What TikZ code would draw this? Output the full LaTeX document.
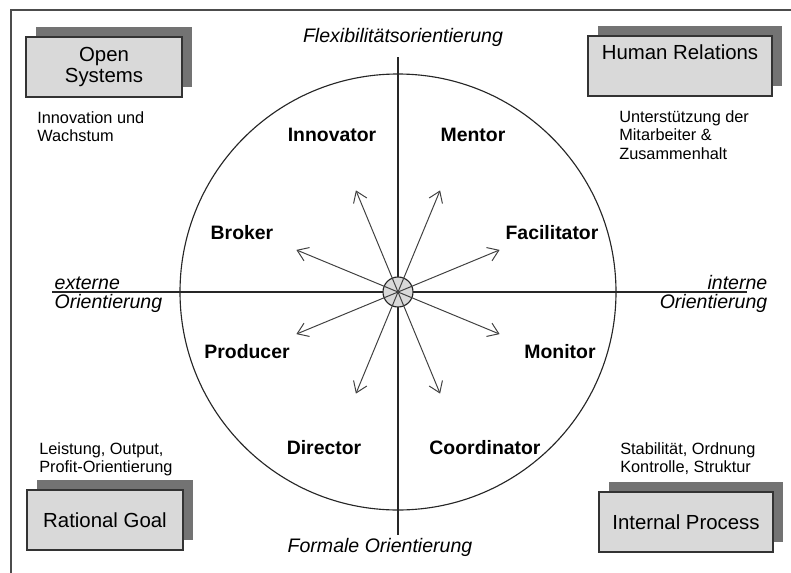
\documentclass[tikz,border=0pt]{standalone}
\usepackage{fontspec}
\setmainfont{Liberation Sans}
\usetikzlibrary{arrows.meta,shadows}
\tikzset{
  quadbox/.style={draw=black!80,line width=0.8pt,fill=black!15,minimum height=1.5cm,align=center,
    font=\fontsize{14.5}{16.5}\selectfont,
    drop shadow={shadow xshift=0.25cm,shadow yshift=0.25cm,fill=black!55,opacity=1}},
  roletxt/.style={font=\fontsize{13.8}{16}\selectfont\bfseries},
  notetxt/.style={inner sep=0pt,align=left,font=\fontsize{11.6}{13.2}\selectfont},
  axistxt/.style={inner sep=1pt,font=\fontsize{13.9}{16}\selectfont\itshape},
}
\begin{document}
\begin{tikzpicture}[x=0.025cm,y=-0.025cm]
			
			\useasboundingbox (0,0) rectangle (791,573);
			\def\cx{398}
			\def\cy{292}
			% Rahmen
			\draw[black!70,line width=1.1pt] (11,573)--(11,10)--(791,10);
			% Kreis und Achsen
			\draw[black!85,line width=0.8pt] (\cx,\cy) circle (218);
			\draw[black!85,line width=0.8pt] (\cx,57)--(\cx,535);
			\draw[black!85,line width=0.8pt] (52,\cy)--(747,\cy);
			\node[axistxt] (flex) at (403,37) {Flexibilitätsorientierung};
			\node[axistxt] (form) at (380,547) {Formale Orientierung};
			\node[axistxt,anchor=south west] (ext) at (53,291) {externe};
			\node[axistxt,anchor=north west] (extO) at (53,293) {Orientierung};
			\node[axistxt,anchor=south east] (int) at (769,291) {interne};
			\node[axistxt,anchor=north east] (intO) at (769,293) {Orientierung};
			% Mitte und Pfeile
			\node[circle,draw=black!85,fill=black!15,minimum size=0.75cm,inner sep=0pt,line width=0.8pt] (mid) at (\cx,\cy) {};
			\foreach \w in {22.5,67.5,...,337.5}\draw[black!75,line width=0.7pt,-{Straight Barb[length=2.6mm,width=3.6mm]}] (mid.center)--++(\w:110);
			% Rollen
			\node[roletxt] (innov) at (332,135) {Innovator};
			\node[roletxt] (mentor) at (473,135) {Mentor};
			\node[roletxt] (broker) at (242,233) {Broker};
			\node[roletxt] (facil) at (552,233) {Facilitator};
			\node[roletxt] (prod) at (247,352) {Producer};
			\node[roletxt] (monit) at (560,352) {Monitor};
			\node[roletxt] (direct) at (324,448) {Director};
			\node[roletxt] (coord) at (485,448) {Coordinator};
			% Quadranten
			\node[quadbox,minimum width=3.9cm] (open) at (104,67) {Open\\[-2pt]Systems};
			\node[quadbox,minimum width=4.6cm] (human) at (680,66) {Human Relations\\[-2pt]\strut};
			\node[quadbox,minimum width=3.9cm] (ratio) at (105,520) {Rational Goal};
			\node[quadbox,minimum width=4.35cm] (intern) at (686,522) {Internal Process};
			\node[notetxt,anchor=north west] (openT) at (37,111) {Innovation und\\Wachstum};
			\node[notetxt,anchor=north west] (humanT) at (619,110) {Unterstützung der\\Mitarbeiter \&\\Zusammenhalt};
			\node[notetxt,anchor=north west] (ratioT) at (39,442) {Leistung, Output,\\Profit-Orientierung};
			\node[notetxt,anchor=north west] (internT) at (620,442) {Stabilität, Ordnung\\Kontrolle, Struktur};
			
		\end{tikzpicture}
\end{document}
